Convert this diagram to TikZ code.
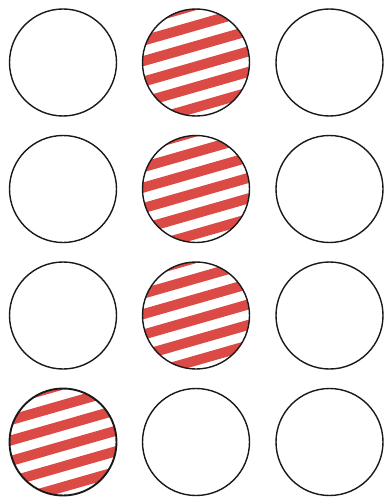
\documentclass[tikz,border=0pt]{standalone}
\usetikzlibrary{backgrounds}
\definecolor{stripered}{RGB}{219,74,69}
\tikzset{
  disc/.style={circle, draw=black!90, line width=1.4pt, inner sep=0pt, minimum size=107pt}
}
\newcommand{\stripesin}[1]{%
  \begin{scope}
    \clip (#1.center) circle (53.5pt);
    \begin{scope}[shift={(#1.center)}, rotate=16]
      \foreach \k in {-4,...,4}{
        \fill[stripered] (-70,{3.8+\k*19.7-5}) rectangle (70,{3.8+\k*19.7+5});
      }
    \end{scope}
  \end{scope}}
\begin{document}
\begin{tikzpicture}[x=1pt,y=-1pt]
\useasboundingbox (0,0) rectangle (383,500);
\node[disc] (a1) at (63,62.5) {};
\node[disc] (b1) at (196,62.5) {};
\node[disc] (c1) at (329.5,62.5) {};
\node[disc] (a2) at (63,189) {};
\node[disc] (b2) at (196,189) {};
\node[disc] (c2) at (329.5,189) {};
\node[disc] (a3) at (63,315.5) {};
\node[disc] (b3) at (196,315.5) {};
\node[disc] (c3) at (329.5,315.5) {};
\node[disc, line width=1.9pt] (a4) at (63,442) {};
\node[disc] (b4) at (196,442) {};
\node[disc] (c4) at (329.5,442) {};
\begin{pgfonlayer}{background}
  \stripesin{b1}
  \stripesin{b2}
  \stripesin{b3}
  \stripesin{a4}
\end{pgfonlayer}
\end{tikzpicture}
\end{document}
